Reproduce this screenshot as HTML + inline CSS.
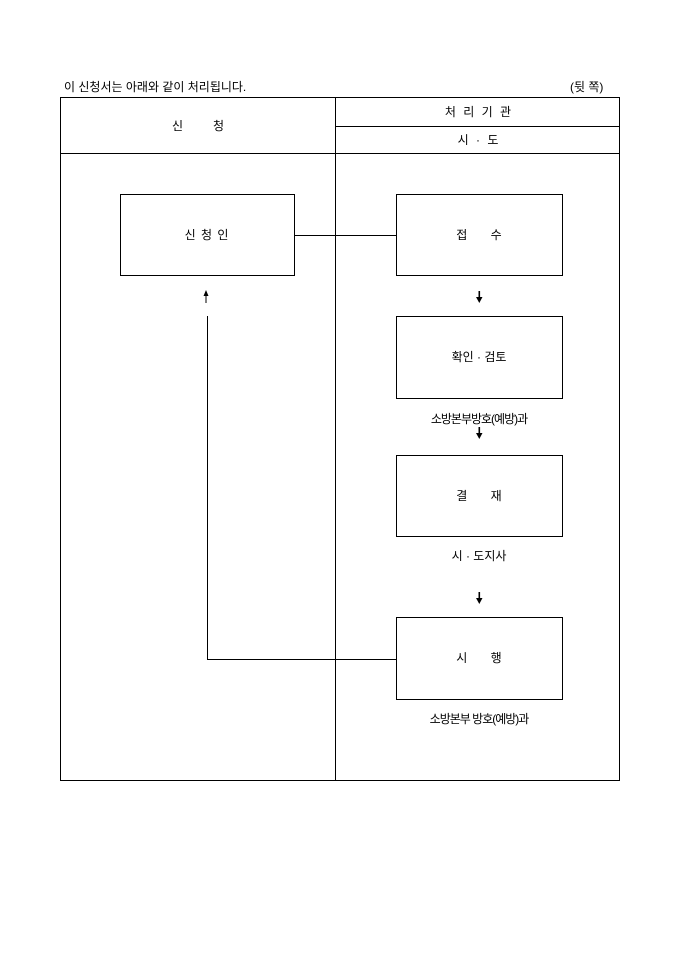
<!DOCTYPE html>
<html><head><meta charset="utf-8"><style>
body{margin:0;background:#fff;width:680px;height:962px;position:relative;font-family:"Liberation Sans","Noto Sans CJK KR","NanumGothic",sans-serif;color:#000}
.t{position:absolute;font-size:12px;white-space:nowrap;line-height:14px}
.c{transform:translateX(-50%)}
</style></head><body>
<svg width="680" height="962" style="position:absolute;left:0;top:0">
<g stroke="#000" fill="none" stroke-width="1" shape-rendering="crispEdges">
<rect x="60.5" y="97.5" width="559" height="683"/>
<line x1="335.5" y1="97" x2="335.5" y2="781"/>
<line x1="335" y1="126.5" x2="620" y2="126.5"/>
<line x1="60" y1="153.5" x2="620" y2="153.5"/>
<rect x="120.5" y="194.5" width="174" height="81"/>
<rect x="396.5" y="194.5" width="166" height="81"/>
<rect x="396.5" y="316.5" width="166" height="82"/>
<rect x="396.5" y="455.5" width="166" height="81"/>
<rect x="396.5" y="617.5" width="166" height="82"/>
<line x1="295" y1="235.5" x2="396" y2="235.5"/>
<polyline points="207.5,316 207.5,659.5 396,659.5"/>
</g>
<g fill="#000">
<rect x="478.5" y="291" width="1.6" height="7"/><polygon points="476,297 482.5,297 479.3,303"/>
<rect x="478.5" y="427" width="1.6" height="7"/><polygon points="476,433 482.5,433 479.3,439"/>
<rect x="478.5" y="592" width="1.6" height="7"/><polygon points="476,598 482.5,598 479.3,604"/>
<rect x="205.5" y="294" width="1" height="9"/><polygon points="203.5,296 208.5,296 206,290"/>
</g>
</svg>
<div class="t" style="left:64px;top:80px">이 신청서는 아래와 같이 처리됩니다.</div>
<div class="t" style="left:570px;top:80px">(뒷 쪽)</div>
<div class="t c" style="left:198px;top:119px">신&nbsp;&nbsp;&nbsp;&nbsp;&nbsp;&nbsp;&nbsp;&nbsp;&nbsp;청</div>
<div class="t c" style="left:479px;top:105px;letter-spacing:2px">처 리 기 관</div>
<div class="t c" style="left:479px;top:133px;letter-spacing:2px">시 · 도</div>
<div class="t c" style="left:207px;top:228px;letter-spacing:1px">신 청 인</div>
<div class="t c" style="left:479px;top:228px">접&nbsp;&nbsp;&nbsp;&nbsp;&nbsp;&nbsp;&nbsp;수</div>
<div class="t c" style="left:479px;top:350px">확인 · 검토</div>
<div class="t c" style="left:479px;top:489px">결&nbsp;&nbsp;&nbsp;&nbsp;&nbsp;&nbsp;&nbsp;재</div>
<div class="t c" style="left:479px;top:651px">시&nbsp;&nbsp;&nbsp;&nbsp;&nbsp;&nbsp;&nbsp;행</div>
<div class="t c" style="left:479px;top:412px;letter-spacing:-1px">소방본부방호(예방)과</div>
<div class="t c" style="left:479px;top:549px">시 · 도지사</div>
<div class="t c" style="left:479px;top:712px;letter-spacing:-1px">소방본부 방호(예방)과</div>
</body></html>
